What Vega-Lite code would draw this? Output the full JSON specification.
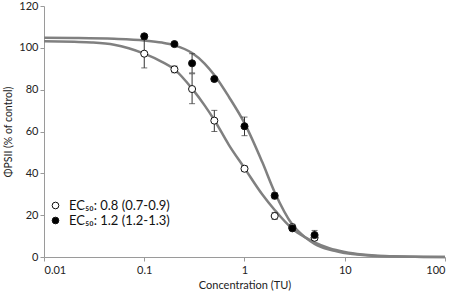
{
  "$schema": "https://vega.github.io/schema/vega-lite/v6.json",
  "width": 401,
  "height": 251,
  "autosize": {"type": "none"},
  "padding": {"left": 44, "top": 6, "right": 9, "bottom": 39},
  "background": "white",
  "config": {
    "view": {"stroke": null},
    "font": "Lato",
    "axis": {"grid": false, "domainColor": "#9a9a9a", "tickColor": "#9a9a9a", "labelColor": "#222222", "titleColor": "#222222", "labelFontSize": 11, "titleFontSize": 11, "titleFontWeight": "normal", "tickSize": 4}
  },
  "datasets": {
    "curves": [
      {"conc": 0.01, "y": 103.2, "curve": "a"}, {"conc": 0.02, "y": 102.9, "curve": "a"}, {"conc": 0.03, "y": 102.6, "curve": "a"},
      {"conc": 0.05, "y": 101.5, "curve": "a"}, {"conc": 0.07, "y": 99.8, "curve": "a"}, {"conc": 0.1, "y": 97.2, "curve": "a"},
      {"conc": 0.15, "y": 93.3, "curve": "a"}, {"conc": 0.2, "y": 89.7, "curve": "a"}, {"conc": 0.3, "y": 80.5, "curve": "a"},
      {"conc": 0.4, "y": 72.5, "curve": "a"}, {"conc": 0.5, "y": 65.5, "curve": "a"}, {"conc": 0.7, "y": 53.5, "curve": "a"},
      {"conc": 1, "y": 42.5, "curve": "a"}, {"conc": 1.5, "y": 30, "curve": "a"}, {"conc": 2, "y": 22.5, "curve": "a"},
      {"conc": 3, "y": 13.5, "curve": "a"}, {"conc": 4, "y": 9.5, "curve": "a"}, {"conc": 5, "y": 7, "curve": "a"},
      {"conc": 7, "y": 4.2, "curve": "a"}, {"conc": 10, "y": 2.4, "curve": "a"}, {"conc": 15, "y": 1.2, "curve": "a"},
      {"conc": 20, "y": 0.7, "curve": "a"}, {"conc": 30, "y": 0.35, "curve": "a"}, {"conc": 50, "y": 0.1, "curve": "a"},
      {"conc": 100, "y": 0, "curve": "a"},
      {"conc": 0.01, "y": 104.8, "curve": "b"}, {"conc": 0.02, "y": 104.7, "curve": "b"}, {"conc": 0.05, "y": 104.3, "curve": "b"},
      {"conc": 0.1, "y": 103.5, "curve": "b"}, {"conc": 0.15, "y": 102.5, "curve": "b"}, {"conc": 0.2, "y": 101.2, "curve": "b"},
      {"conc": 0.3, "y": 97.5, "curve": "b"}, {"conc": 0.4, "y": 92.5, "curve": "b"}, {"conc": 0.5, "y": 87, "curve": "b"},
      {"conc": 0.7, "y": 76.5, "curve": "b"}, {"conc": 1, "y": 64, "curve": "b"}, {"conc": 1.5, "y": 45.5, "curve": "b"},
      {"conc": 2, "y": 31, "curve": "b"}, {"conc": 3, "y": 15.5, "curve": "b"}, {"conc": 4, "y": 9.5, "curve": "b"},
      {"conc": 5, "y": 6.3, "curve": "b"}, {"conc": 7, "y": 3.5, "curve": "b"}, {"conc": 10, "y": 1.9, "curve": "b"},
      {"conc": 15, "y": 0.9, "curve": "b"}, {"conc": 20, "y": 0.5, "curve": "b"}, {"conc": 30, "y": 0.25, "curve": "b"},
      {"conc": 50, "y": 0.08, "curve": "b"}, {"conc": 100, "y": 0, "curve": "b"}
    ],
    "points": [
      {"conc": 0.1, "y": 97.2, "lo": 90.4, "hi": 104, "series": "EC₅₀: 0.8 (0.7-0.9)"},
      {"conc": 0.2, "y": 89.7, "lo": 88.1, "hi": 91.3, "series": "EC₅₀: 0.8 (0.7-0.9)"},
      {"conc": 0.3, "y": 80.3, "lo": 73.3, "hi": 87.6, "series": "EC₅₀: 0.8 (0.7-0.9)"},
      {"conc": 0.5, "y": 65.2, "lo": 60, "hi": 70.1, "series": "EC₅₀: 0.8 (0.7-0.9)"},
      {"conc": 1, "y": 42.2, "lo": 41, "hi": 43.5, "series": "EC₅₀: 0.8 (0.7-0.9)"},
      {"conc": 2, "y": 19.6, "lo": 18, "hi": 21.3, "series": "EC₅₀: 0.8 (0.7-0.9)"},
      {"conc": 3, "y": 14.3, "lo": 13, "hi": 15.6, "series": "EC₅₀: 0.8 (0.7-0.9)"},
      {"conc": 5, "y": 9.2, "lo": 8, "hi": 10.5, "series": "EC₅₀: 0.8 (0.7-0.9)"},
      {"conc": 0.1, "y": 105.5, "lo": 104.5, "hi": 106.5, "series": "EC₅₀: 1.2 (1.2-1.3)"},
      {"conc": 0.2, "y": 101.8, "lo": 101, "hi": 102.6, "series": "EC₅₀: 1.2 (1.2-1.3)"},
      {"conc": 0.3, "y": 92.6, "lo": 88, "hi": 97.2, "series": "EC₅₀: 1.2 (1.2-1.3)"},
      {"conc": 0.5, "y": 85.1, "lo": 84.1, "hi": 86.1, "series": "EC₅₀: 1.2 (1.2-1.3)"},
      {"conc": 1, "y": 62.5, "lo": 58, "hi": 66.9, "series": "EC₅₀: 1.2 (1.2-1.3)"},
      {"conc": 2, "y": 29.3, "lo": 27.8, "hi": 30.8, "series": "EC₅₀: 1.2 (1.2-1.3)"},
      {"conc": 3, "y": 13.7, "lo": 12.7, "hi": 14.7, "series": "EC₅₀: 1.2 (1.2-1.3)"},
      {"conc": 5, "y": 10.5, "lo": 8.3, "hi": 12.7, "series": "EC₅₀: 1.2 (1.2-1.3)"}
    ]
  },
  "layer": [
    {
      "data": {"name": "curves"},
      "mark": {"type": "line", "interpolate": "monotone", "color": "#808080", "strokeWidth": 2.5},
      "encoding": {
        "x": {"field": "conc", "type": "quantitative", "scale": {"type": "log", "domain": [0.01, 100]},
          "axis": {"values": [0.01, 0.1, 1, 10, 100], "format": "~g", "title": "Concentration (TU)", "titlePadding": 4, "labelPadding": 3}},
        "y": {"field": "y", "type": "quantitative", "scale": {"domain": [0, 120]},
          "axis": {"values": [0, 20, 40, 60, 80, 100, 120], "title": "ΦPSII (% of control)", "titlePadding": 5, "titleFontSize": 10.5}},
        "detail": {"field": "curve"}
      }
    },
    {
      "data": {"name": "points"},
      "mark": {"type": "rule", "color": "#333333", "strokeWidth": 1},
      "encoding": {
        "x": {"field": "conc", "type": "quantitative", "scale": {"type": "log"}},
        "y": {"field": "lo", "type": "quantitative"},
        "y2": {"field": "hi"}
      }
    },
    {
      "data": {"name": "points"},
      "mark": {"type": "tick", "orient": "horizontal", "color": "#333333", "size": 6, "thickness": 1},
      "encoding": {
        "x": {"field": "conc", "type": "quantitative"},
        "y": {"field": "lo", "type": "quantitative"}
      }
    },
    {
      "data": {"name": "points"},
      "mark": {"type": "tick", "orient": "horizontal", "color": "#333333", "size": 6, "thickness": 1},
      "encoding": {
        "x": {"field": "conc", "type": "quantitative"},
        "y": {"field": "hi", "type": "quantitative"}
      }
    },
    {
      "data": {"name": "points"},
      "mark": {"type": "point", "shape": "circle", "filled": true, "size": 50, "stroke": "#111111", "strokeWidth": 1, "opacity": 1},
      "encoding": {
        "x": {"field": "conc", "type": "quantitative"},
        "y": {"field": "y", "type": "quantitative"},
        "fill": {"field": "series", "type": "nominal",
          "scale": {"domain": ["EC₅₀: 0.8 (0.7-0.9)", "EC₅₀: 1.2 (1.2-1.3)"], "range": ["white", "black"]},
          "legend": {"title": null, "orient": "none", "legendX": 5, "legendY": 193, "symbolType": "circle", "symbolSize": 45, "symbolStrokeColor": "#111111", "symbolStrokeWidth": 1, "labelFontSize": 13, "labelColor": "#111111", "rowPadding": 1, "labelOffset": 7}}
      }
    }
  ]
}
